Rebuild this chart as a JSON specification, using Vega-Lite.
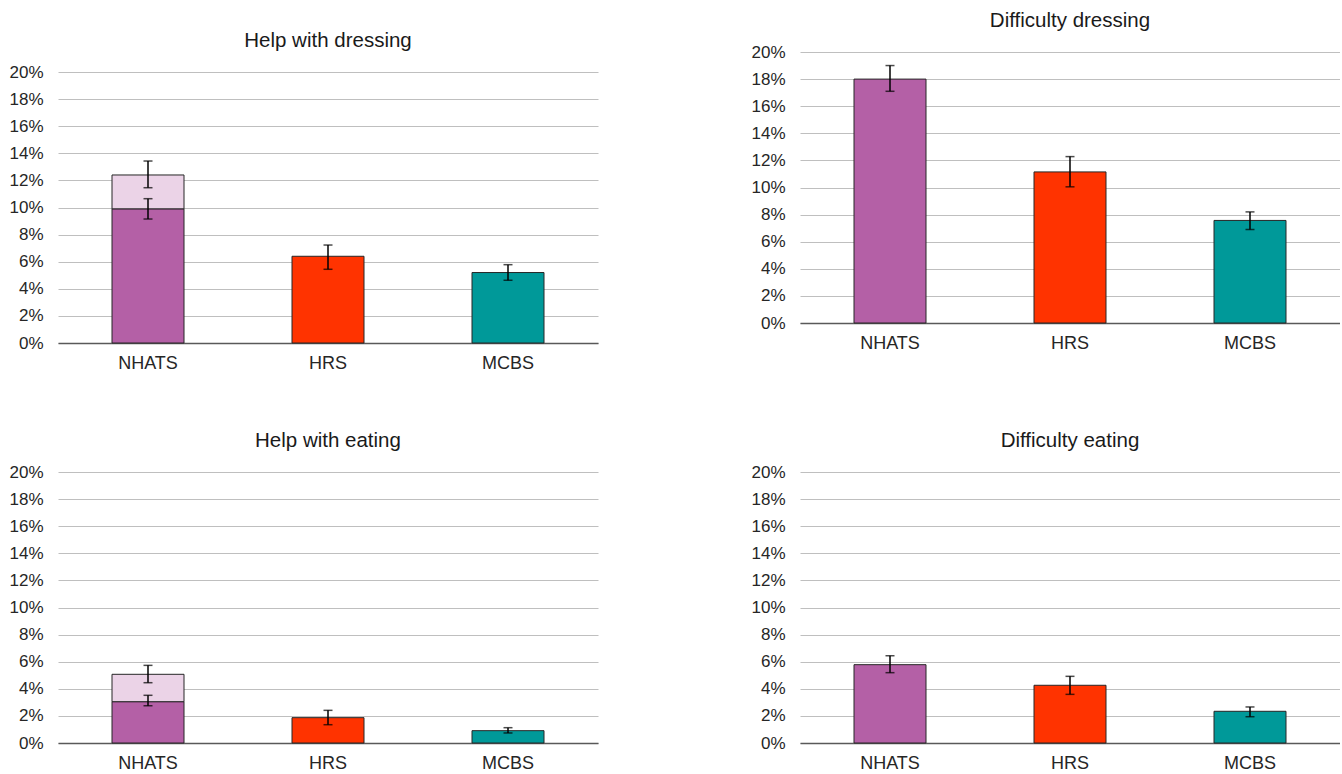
{
  "$schema": "https://vega.github.io/schema/vega-lite/v6.json",
  "background": "white",
  "padding": {"left": 8, "top": 9, "right": 0, "bottom": 0},
  "datasets": {
    "bars": [
      {"panel": "TL", "source": "NHATS", "seg": "NHATS", "y0": 0, "y1": 0.099},
      {"panel": "TL", "source": "NHATS", "seg": "NHATS extra", "y0": 0.099, "y1": 0.124},
      {"panel": "TL", "source": "HRS", "seg": "HRS", "y0": 0, "y1": 0.064},
      {"panel": "TL", "source": "MCBS", "seg": "MCBS", "y0": 0, "y1": 0.052},
      {"panel": "TR", "source": "NHATS", "seg": "NHATS", "y0": 0, "y1": 0.18},
      {"panel": "TR", "source": "HRS", "seg": "HRS", "y0": 0, "y1": 0.1115},
      {"panel": "TR", "source": "MCBS", "seg": "MCBS", "y0": 0, "y1": 0.0757},
      {"panel": "BL", "source": "NHATS", "seg": "NHATS", "y0": 0, "y1": 0.0305},
      {"panel": "BL", "source": "NHATS", "seg": "NHATS extra", "y0": 0.0305, "y1": 0.0507},
      {"panel": "BL", "source": "HRS", "seg": "HRS", "y0": 0, "y1": 0.0187},
      {"panel": "BL", "source": "MCBS", "seg": "MCBS", "y0": 0, "y1": 0.0091},
      {"panel": "BR", "source": "NHATS", "seg": "NHATS", "y0": 0, "y1": 0.0578},
      {"panel": "BR", "source": "HRS", "seg": "HRS", "y0": 0, "y1": 0.0426},
      {"panel": "BR", "source": "MCBS", "seg": "MCBS", "y0": 0, "y1": 0.0234}
    ],
    "errs": [
      {"panel": "TL", "source": "NHATS", "lo": 0.0915, "hi": 0.1065},
      {"panel": "TL", "source": "NHATS", "lo": 0.1146, "hi": 0.1343},
      {"panel": "TL", "source": "HRS", "lo": 0.0544, "hi": 0.0723},
      {"panel": "TL", "source": "MCBS", "lo": 0.0463, "hi": 0.0578},
      {"panel": "TR", "source": "NHATS", "lo": 0.171, "hi": 0.19},
      {"panel": "TR", "source": "HRS", "lo": 0.1005, "hi": 0.1228},
      {"panel": "TR", "source": "MCBS", "lo": 0.069, "hi": 0.082},
      {"panel": "BL", "source": "NHATS", "lo": 0.0275, "hi": 0.0352},
      {"panel": "BL", "source": "NHATS", "lo": 0.0445, "hi": 0.0573},
      {"panel": "BL", "source": "HRS", "lo": 0.0135, "hi": 0.0241},
      {"panel": "BL", "source": "MCBS", "lo": 0.0074, "hi": 0.0113},
      {"panel": "BR", "source": "NHATS", "lo": 0.0519, "hi": 0.0644},
      {"panel": "BR", "source": "HRS", "lo": 0.0359, "hi": 0.0492},
      {"panel": "BR", "source": "MCBS", "lo": 0.0194, "hi": 0.0266}
    ]
  },
  "config": {
    "view": {"stroke": null},
    "font": "Liberation Sans",
    "axis": {"labelFont": "Liberation Sans", "labelColor": "#262626"},
    "axisX": {"labelAngle": 0, "labelFontSize": 18, "ticks": false, "labelPadding": 11, "domainColor": "#595959", "domainWidth": 1.5, "grid": false, "title": null},
    "axisY": {"labelFontSize": 17, "domain": false, "ticks": false, "labelPadding": 15, "gridColor": "#BFBFBF", "gridWidth": 1.2, "title": null, "format": ".0%", "values": [0, 0.02, 0.04, 0.06, 0.08, 0.1, 0.12, 0.14, 0.16, 0.18, 0.2]},
    "title": {"font": "Liberation Sans", "fontSize": 20.5, "fontWeight": "normal", "color": "#1a1a1a", "anchor": "middle", "offset": 12}
  },
  "spacing": 58,
  "vconcat": [
    {
      "spacing": 152,
      "hconcat": [
        {
          "spacing": 20,
          "vconcat": [
            {"width": 540, "height": 1, "data": {"values": []}, "mark": {"type": "point", "opacity": 0}, "encoding": {}},
            {
              "width": 540, "height": 271,
              "title": {"text": "Help with dressing"},
              "layer": [
                {"data": {"name": "bars"}, "transform": [{"filter": "datum.panel === 'TL'"}], "mark": {"type": "bar", "stroke": "#262626", "strokeWidth": 1},
                 "encoding": {
                   "x": {"field": "source", "type": "nominal", "sort": ["NHATS", "HRS", "MCBS"], "scale": {"paddingInner": 0.6, "paddingOuter": 0.3}},
                   "y": {"field": "y0", "type": "quantitative", "scale": {"domain": [0, 0.2]}},
                   "y2": {"field": "y1"},
                   "fill": {"field": "seg", "type": "nominal", "scale": {"domain": ["NHATS", "NHATS extra", "HRS", "MCBS"], "range": ["#B460A6", "#EBD3E7", "#FF3300", "#009999"]}, "legend": null}
                 }},
                {"data": {"name": "errs"}, "transform": [{"filter": "datum.panel === 'TL'"}], "mark": {"type": "rule", "color": "#000", "strokeWidth": 1.5},
                 "encoding": {"x": {"field": "source", "type": "nominal", "sort": ["NHATS", "HRS", "MCBS"]}, "y": {"field": "lo", "type": "quantitative"}, "y2": {"field": "hi"}}},
                {"data": {"name": "errs"}, "transform": [{"filter": "datum.panel === 'TL'"}], "mark": {"type": "tick", "color": "#000", "size": 9, "thickness": 1.5},
                 "encoding": {"x": {"field": "source", "type": "nominal", "sort": ["NHATS", "HRS", "MCBS"]}, "y": {"field": "lo", "type": "quantitative"}}},
                {"data": {"name": "errs"}, "transform": [{"filter": "datum.panel === 'TL'"}], "mark": {"type": "tick", "color": "#000", "size": 9, "thickness": 1.5},
                 "encoding": {"x": {"field": "source", "type": "nominal", "sort": ["NHATS", "HRS", "MCBS"]}, "y": {"field": "hi", "type": "quantitative"}}}
              ]
            }
          ]
        },
        {
          "spacing": 0,
          "vconcat": [
            {"width": 540, "height": 1, "data": {"values": []}, "mark": {"type": "point", "opacity": 0}, "encoding": {}},
            {
              "width": 540, "height": 271,
              "title": {"text": "Difficulty dressing"},
              "layer": [
                {"data": {"name": "bars"}, "transform": [{"filter": "datum.panel === 'TR'"}], "mark": {"type": "bar", "stroke": "#262626", "strokeWidth": 1},
                 "encoding": {
                   "x": {"field": "source", "type": "nominal", "sort": ["NHATS", "HRS", "MCBS"], "scale": {"paddingInner": 0.6, "paddingOuter": 0.3}},
                   "y": {"field": "y0", "type": "quantitative", "scale": {"domain": [0, 0.2]}},
                   "y2": {"field": "y1"},
                   "fill": {"field": "seg", "type": "nominal", "scale": {"domain": ["NHATS", "NHATS extra", "HRS", "MCBS"], "range": ["#B460A6", "#EBD3E7", "#FF3300", "#009999"]}, "legend": null}
                 }},
                {"data": {"name": "errs"}, "transform": [{"filter": "datum.panel === 'TR'"}], "mark": {"type": "rule", "color": "#000", "strokeWidth": 1.5},
                 "encoding": {"x": {"field": "source", "type": "nominal", "sort": ["NHATS", "HRS", "MCBS"]}, "y": {"field": "lo", "type": "quantitative"}, "y2": {"field": "hi"}}},
                {"data": {"name": "errs"}, "transform": [{"filter": "datum.panel === 'TR'"}], "mark": {"type": "tick", "color": "#000", "size": 9, "thickness": 1.5},
                 "encoding": {"x": {"field": "source", "type": "nominal", "sort": ["NHATS", "HRS", "MCBS"]}, "y": {"field": "lo", "type": "quantitative"}}},
                {"data": {"name": "errs"}, "transform": [{"filter": "datum.panel === 'TR'"}], "mark": {"type": "tick", "color": "#000", "size": 9, "thickness": 1.5},
                 "encoding": {"x": {"field": "source", "type": "nominal", "sort": ["NHATS", "HRS", "MCBS"]}, "y": {"field": "hi", "type": "quantitative"}}}
              ]
            }
          ]
        }
      ]
    },
    {
      "spacing": 152,
      "hconcat": [
        {
          "width": 540, "height": 271,
          "title": {"text": "Help with eating"},
          "layer": [
            {"data": {"name": "bars"}, "transform": [{"filter": "datum.panel === 'BL'"}], "mark": {"type": "bar", "stroke": "#262626", "strokeWidth": 1},
             "encoding": {
               "x": {"field": "source", "type": "nominal", "sort": ["NHATS", "HRS", "MCBS"], "scale": {"paddingInner": 0.6, "paddingOuter": 0.3}},
               "y": {"field": "y0", "type": "quantitative", "scale": {"domain": [0, 0.2]}},
               "y2": {"field": "y1"},
               "fill": {"field": "seg", "type": "nominal", "scale": {"domain": ["NHATS", "NHATS extra", "HRS", "MCBS"], "range": ["#B460A6", "#EBD3E7", "#FF3300", "#009999"]}, "legend": null}
             }},
            {"data": {"name": "errs"}, "transform": [{"filter": "datum.panel === 'BL'"}], "mark": {"type": "rule", "color": "#000", "strokeWidth": 1.5},
             "encoding": {"x": {"field": "source", "type": "nominal", "sort": ["NHATS", "HRS", "MCBS"]}, "y": {"field": "lo", "type": "quantitative"}, "y2": {"field": "hi"}}},
            {"data": {"name": "errs"}, "transform": [{"filter": "datum.panel === 'BL'"}], "mark": {"type": "tick", "color": "#000", "size": 9, "thickness": 1.5},
             "encoding": {"x": {"field": "source", "type": "nominal", "sort": ["NHATS", "HRS", "MCBS"]}, "y": {"field": "lo", "type": "quantitative"}}},
            {"data": {"name": "errs"}, "transform": [{"filter": "datum.panel === 'BL'"}], "mark": {"type": "tick", "color": "#000", "size": 9, "thickness": 1.5},
             "encoding": {"x": {"field": "source", "type": "nominal", "sort": ["NHATS", "HRS", "MCBS"]}, "y": {"field": "hi", "type": "quantitative"}}}
          ]
        },
        {
          "width": 540, "height": 271,
          "title": {"text": "Difficulty eating"},
          "layer": [
            {"data": {"name": "bars"}, "transform": [{"filter": "datum.panel === 'BR'"}], "mark": {"type": "bar", "stroke": "#262626", "strokeWidth": 1},
             "encoding": {
               "x": {"field": "source", "type": "nominal", "sort": ["NHATS", "HRS", "MCBS"], "scale": {"paddingInner": 0.6, "paddingOuter": 0.3}},
               "y": {"field": "y0", "type": "quantitative", "scale": {"domain": [0, 0.2]}},
               "y2": {"field": "y1"},
               "fill": {"field": "seg", "type": "nominal", "scale": {"domain": ["NHATS", "NHATS extra", "HRS", "MCBS"], "range": ["#B460A6", "#EBD3E7", "#FF3300", "#009999"]}, "legend": null}
             }},
            {"data": {"name": "errs"}, "transform": [{"filter": "datum.panel === 'BR'"}], "mark": {"type": "rule", "color": "#000", "strokeWidth": 1.5},
             "encoding": {"x": {"field": "source", "type": "nominal", "sort": ["NHATS", "HRS", "MCBS"]}, "y": {"field": "lo", "type": "quantitative"}, "y2": {"field": "hi"}}},
            {"data": {"name": "errs"}, "transform": [{"filter": "datum.panel === 'BR'"}], "mark": {"type": "tick", "color": "#000", "size": 9, "thickness": 1.5},
             "encoding": {"x": {"field": "source", "type": "nominal", "sort": ["NHATS", "HRS", "MCBS"]}, "y": {"field": "lo", "type": "quantitative"}}},
            {"data": {"name": "errs"}, "transform": [{"filter": "datum.panel === 'BR'"}], "mark": {"type": "tick", "color": "#000", "size": 9, "thickness": 1.5},
             "encoding": {"x": {"field": "source", "type": "nominal", "sort": ["NHATS", "HRS", "MCBS"]}, "y": {"field": "hi", "type": "quantitative"}}}
          ]
        }
      ]
    }
  ]
}
